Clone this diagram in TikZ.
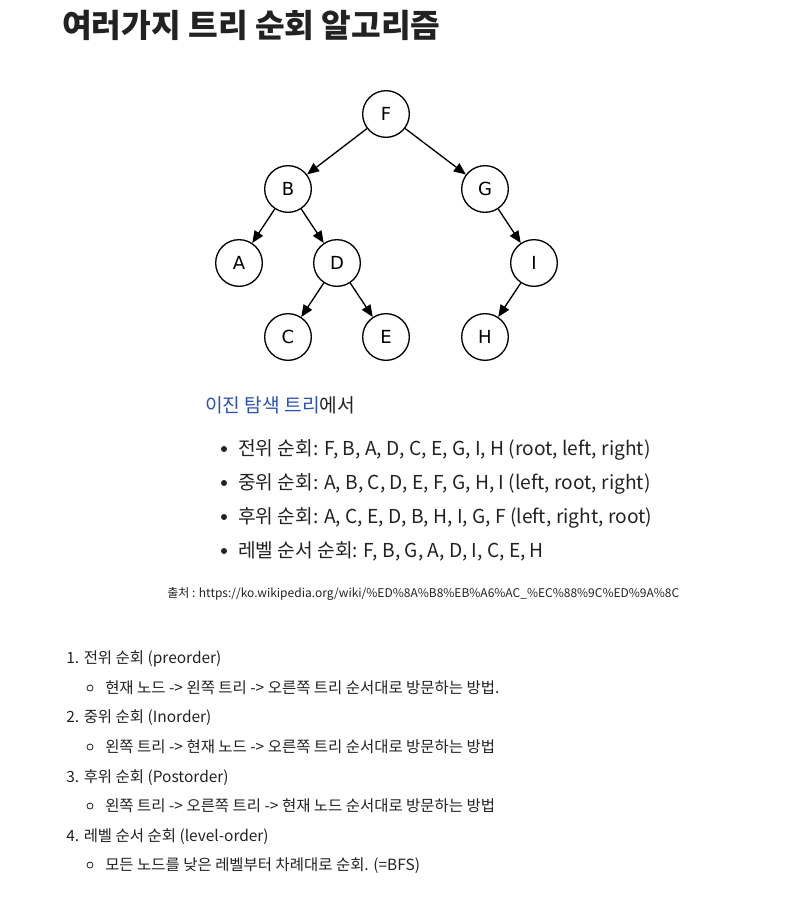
\documentclass[tikz,border=0pt]{standalone}
\usepackage{fontspec}
\setmainfont{Noto Sans CJK KR}
\newfontfamily\nodefont{DejaVu Sans}
\usetikzlibrary{arrows.meta}

\definecolor{linkblue}{HTML}{2A52B5}
\definecolor{bodytext}{HTML}{222222}

\tikzset{
  treenode/.style={circle, draw, line width=1pt, minimum size=35pt, inner sep=0pt,
    font=\nodefont\fontsize{13.5}{16}\selectfont},
  treeedge/.style={line width=1pt, -{Triangle[length=9pt,width=7.5pt]}},
  textline/.style={anchor=base west, inner sep=0pt, text=bodytext},
  midline/.style={textline, font=\fontsize{14.4}{17}\selectfont},
  listline/.style={textline, font=\fontsize{11.6}{14}\selectfont},
  dotmark/.style={circle, fill=bodytext, inner sep=0pt, minimum size=4.5pt},
  ringmark/.style={circle, draw=bodytext, line width=0.6pt, inner sep=0pt, minimum size=4.5pt},
}

\begin{document}
\begin{tikzpicture}[x=0.75pt,y=-0.75pt]
   \useasboundingbox (0,0) rectangle (790,900);

   % title
   \node (title) [textline, font=\bfseries\fontsize{24.2}{28}\selectfont] at (62,37) {여러가지 트리 순회 알고리즘};

   % tree
   \node (F) [treenode] at (386,114) {F};
   \node (B) [treenode] at (288,189) {B};
   \node (G) [treenode] at (485,189) {G};
   \node (A) [treenode] at (239,263) {A};
   \node (D) [treenode] at (337,263) {D};
   \node (I) [treenode] at (534,263) {I};
   \node (C) [treenode] at (288,337) {C};
   \node (E) [treenode] at (386,337) {E};
   \node (H) [treenode] at (485,337) {H};

   \draw [treeedge] (F) -- (B);
   \draw [treeedge] (F) -- (G);
   \draw [treeedge] (B) -- (A);
   \draw [treeedge] (B) -- (D);
   \draw [treeedge] (D) -- (C);
   \draw [treeedge] (D) -- (E);
   \draw [treeedge] (G) -- (I);
   \draw [treeedge] (I) -- (H);

   % traversal results
   \node (intro) [midline] at (205,412) {{\color{linkblue}이진 탐색 트리}에서};

   \node (pre) [midline] at (238,455) {전위 순회: F, B, A, D, C, E, G, I, H (root, left, right)};
   \node (in) [midline] at (238,489) {중위 순회: A, B, C, D, E, F, G, H, I (left, root, right)};
   \node (post) [midline] at (238,523) {후위 순회: A, C, E, D, B, H, I, G, F (left, right, root)};
   \node (level) [midline] at (238,557) {레벨 순서 순회: F, B, G, A, D, I, C, E, H};
   \node [dotmark] at (224,449) {};
   \node [dotmark] at (224,483) {};
   \node [dotmark] at (224,517) {};
   \node [dotmark] at (224,551) {};

   \node (source) [textline, font=\fontsize{9}{11}\selectfont] at (167,597)
      {출처 : https://ko.wikipedia.org/wiki/\%ED\%8A\%B8\%EB\%A6\%AC\_\%EC\%88\%9C\%ED\%9A\%8C};

   % numbered list
   \node (one) [listline] at (66,663) {1. 전위 순회 (preorder)};
   \node (oneb) [listline] at (105,693) {현재 노드 -> 왼쪽 트리 -> 오른쪽 트리 순서대로 방문하는 방법.};
   \node (two) [listline] at (66,722) {2. 중위 순회 (Inorder)};
   \node (twob) [listline] at (105,752) {왼쪽 트리 -> 현재 노드 -> 오른쪽 트리 순서대로 방문하는 방법};
   \node (three) [listline] at (66,782) {3. 후위 순회 (Postorder)};
   \node (threeb) [listline] at (105,811) {왼쪽 트리 -> 오른쪽 트리 -> 현재 노드 순서대로 방문하는 방법};
   \node (four) [listline] at (66,841) {4. 레벨 순서 순회 (level-order)};
   \node (fourb) [listline] at (105,870) {모든 노드를 낮은 레벨부터 차례대로 순회. (=BFS)};
   \node [ringmark] at (90,688) {};
   \node [ringmark] at (90,747) {};
   \node [ringmark] at (90,806) {};
   \node [ringmark] at (90,865) {};

\end{tikzpicture}
\end{document}
